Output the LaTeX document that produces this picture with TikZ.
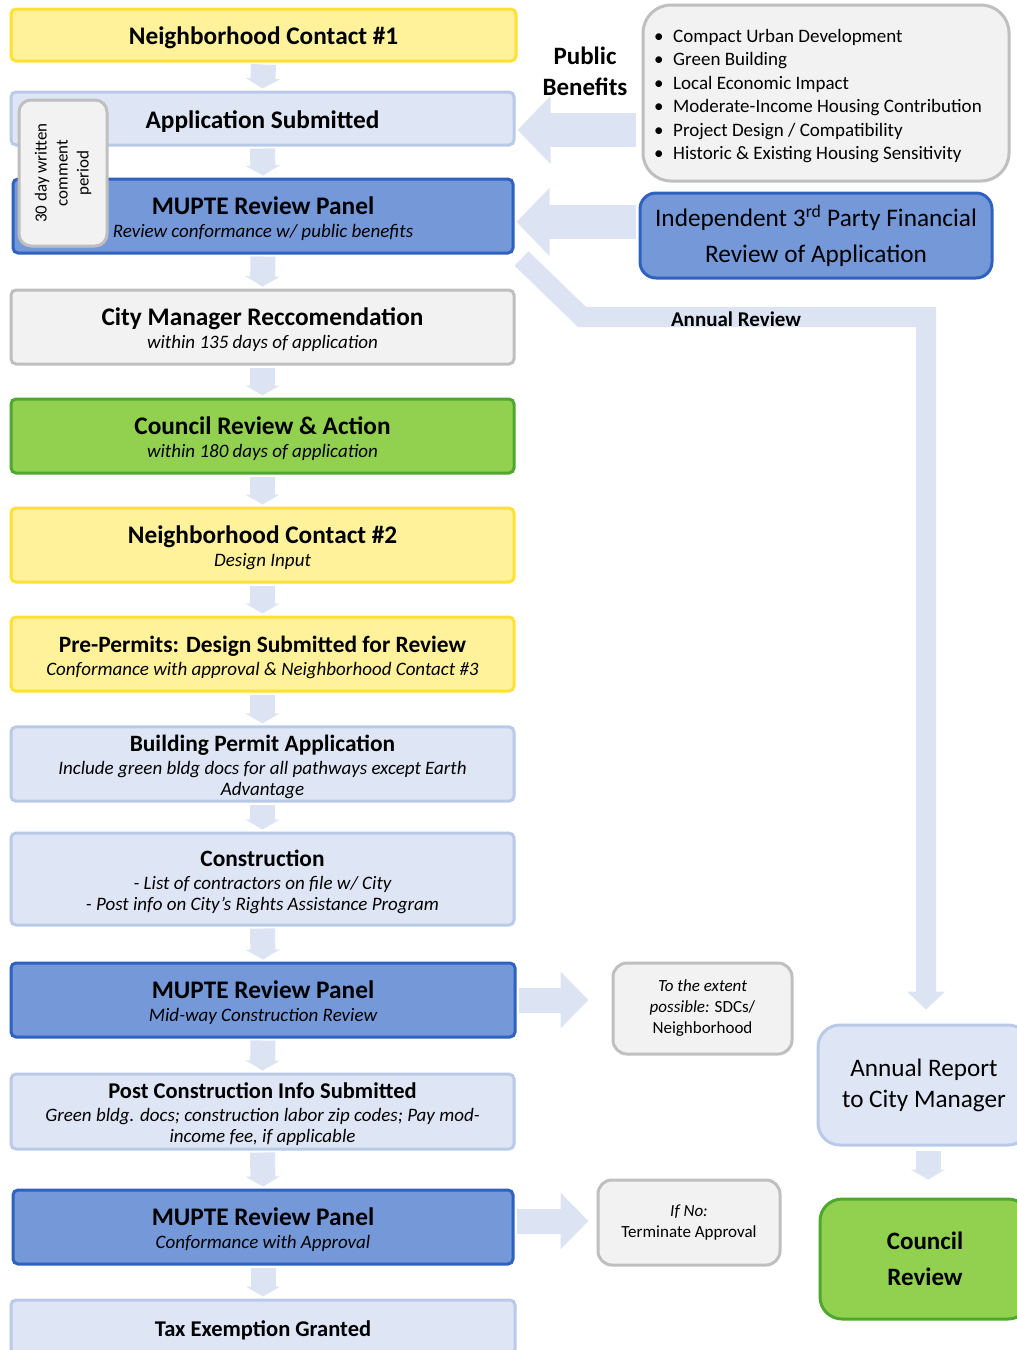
\documentclass[tikz,border=0pt]{standalone}
\usepackage{fontspec}
\setmainfont{Carlito}
\usetikzlibrary{arrows.meta,calc}
\definecolor{yelF}{HTML}{FFF29A}
\definecolor{yelD}{HTML}{FFE135}
\definecolor{lbF}{HTML}{DEE6F5}
\definecolor{lbD}{HTML}{B8CAE8}
\definecolor{dbF}{HTML}{7498D8}
\definecolor{dbD}{HTML}{2F62BE}
\definecolor{grF}{HTML}{F2F2F2}
\definecolor{grD}{HTML}{BFBFBF}
\definecolor{gnF}{HTML}{92D050}
\definecolor{gnD}{HTML}{4EA72E}
\definecolor{arC}{HTML}{DCE4F4}
\newcommand\tf{\fontsize{25.3}{25}\selectfont\bfseries\rule{0pt}{24pt}}
\newcommand\tfm{\fontsize{23.4}{25}\selectfont\bfseries\rule{0pt}{23pt}}
\newcommand\tfs{\fontsize{22.5}{25}\selectfont\bfseries\rule{0pt}{22pt}}
\newcommand\subf{\fontsize{19}{21}\selectfont\itshape}
\tikzset{
  box/.style={rectangle, rounded corners=5pt, line width=3pt, align=center, inner sep=2pt,
              font=\fontsize{19}{21}\selectfont, minimum width=503pt},
  yel/.style={box, fill=yelF, draw=yelD},
  lb/.style={box, fill=lbF, draw=lbD},
  db/.style={box, fill=dbF, draw=dbD},
  gr/.style={box, fill=grF, draw=grD},
  gn/.style={box, fill=gnF, draw=gnD},
  sidebox/.style={rectangle, line width=3pt, align=center, inner sep=2pt},
  downarr/.style={draw=arC, line width=25pt, -{Triangle[width=34pt,length=10pt]}},
  leftarr/.style={draw=arC, line width=34pt, -{Triangle[width=66pt,length=33pt]}},
  rightarr/.style={draw=arC, line width=25pt, -{Triangle[width=55pt,length=28pt]}},
  band/.style={draw=arC, line width=20pt, line join=miter, -{Triangle[width=37pt,length=18pt]}},
}
\begin{document}
\begin{tikzpicture}[x=1pt,y=-1pt]
\useasboundingbox (0,0) rectangle (1017,1350);
\clip (0,0) rectangle (1017,1350);
\fill[white] (0,0) rectangle (1017,1350);

% main column
\node[yel, minimum height=52pt, minimum width=505pt] (b1) at (263.5,35) {{\tf Neighborhood Contact \#1}};
\node[lb, minimum height=53pt] (b2) at (262.5,118.5) {{\tf Application Submitted}};
\node[db, minimum height=74pt, minimum width=500pt] (b3) at (263,216) {{\tf MUPTE Review Panel}\\[2pt]{\subf Review conformance w/ public benefits}};
\node[gr, minimum height=74pt] (b4) at (262.5,327) {{\tf City Manager Reccomendation}\\[2pt]{\subf within 135 days of application}};
\node[gn, minimum height=74pt] (b5) at (262.5,436) {{\tf Council Review \& Action}\\[2pt]{\subf within 180 days of application}};
\node[yel, minimum height=74pt] (b6) at (262.5,545) {{\tf Neighborhood Contact \#2}\\[2pt]{\subf Design Input}};
\node[yel, minimum height=74pt] (b7) at (262.5,654) {{\tfm Pre-Permits: Design Submitted for Review}\\[2pt]{\subf Conformance with approval \& Neighborhood Contact \#3}};
\node[lb, minimum height=74pt] (b8) at (262.5,764) {{\tfm Building Permit Application}\\[2pt]{\subf Include green bldg docs for all pathways except Earth}\\{\subf Advantage}};
\node[lb, minimum height=92pt] (b9) at (262.5,879) {{\tfm Construction}\\[2pt]{\subf - List of contractors on file w/ City}\\{\subf - Post info on City's Rights Assistance Program}};
\node[db, minimum height=74pt, minimum width=504pt] (b10) at (263,1000) {{\tf MUPTE Review Panel}\\[2pt]{\subf Mid-way Construction Review}};
\node[lb, minimum height=75pt] (b11) at (262.5,1111.5) {{\tfs Post Construction Info Submitted}\\[2pt]{\subf Green bldg. docs; construction labor zip codes; Pay mod-}\\{\subf income fee, if applicable}};
\node[db, minimum height=74pt, minimum width=500pt] (b12) at (263,1227) {{\tf MUPTE Review Panel}\\[2pt]{\subf Conformance with Approval}};
\node[lb, minimum height=54pt, minimum width=504pt] (b13) at (263,1327) {{\tfs Tax Exemption Granted}};

% comment period overlay
\node[sidebox, fill=grF, draw=grD, rounded corners=12pt, minimum width=88pt, minimum height=146pt] (cp) at (63,173) {};
\node[rotate=90, align=center, font=\fontsize{17}{21}\selectfont] (cpt) at (cp.center) {30 day written\\comment\\period};

% down arrows
\foreach \a/\b in {b1/b2,b2/b3,b3/b4,b4/b5,b5/b6,b6/b7,b7/b8,b8/b9,b9/b10,b10/b11,b11/b12,b12/b13}
  \draw[downarr] ($(\a.south)+(0,2)$) -- ($(\b.north)+(0,-2)$);

% right side
\node[sidebox, fill=grF, draw=grD, rounded corners=28pt, minimum width=366pt, minimum height=176pt] (pb) at (826,93) {};
\node[anchor=west, align=left, inner sep=0pt, font=\fontsize{19}{23.5}\selectfont] (pbt) at (654,96)
  {\makebox[19pt][l]{\textbullet}Compact Urban Development\\
   \makebox[19pt][l]{\textbullet}Green Building\\
   \makebox[19pt][l]{\textbullet}Local Economic Impact\\
   \makebox[19pt][l]{\textbullet}Moderate-Income Housing Contribution\\
   \makebox[19pt][l]{\textbullet}Project Design / Compatibility\\
   \makebox[19pt][l]{\textbullet}Historic \& Existing Housing Sensitivity};
\node[align=center, font=\fontsize{25}{31}\selectfont\bfseries] (pbl) at (585,71) {Public\\Benefits};

\node[sidebox, fill=dbF, draw=dbD, rounded corners=16pt, minimum width=352pt, minimum height=85pt,
      font=\fontsize{25.3}{36}\selectfont] (ind) at (816,235.5) {Independent 3\textsuperscript{rd} Party Financial\\Review of Application};

\node[sidebox, fill=lbF, draw=lbD, rounded corners=22pt, minimum width=212pt, minimum height=120pt,
      font=\fontsize{25.2}{31}\selectfont] (ar) at (924,1085) {Annual Report\\to City Manager};
\node[sidebox, fill=gnF, draw=gnD, rounded corners=22pt, minimum width=210pt, minimum height=120pt,
      font=\fontsize{25}{36}\selectfont\bfseries] (cr) at (925,1259) {Council\\Review};

\node[sidebox, fill=grF, draw=grD, rounded corners=14pt, minimum width=179pt, minimum height=91pt,
      font=\fontsize{17}{21}\selectfont] (te) at (702.5,1008.5) {\itshape To the extent\\{\itshape possible:} SDCs/\\Neighborhood};
\node[sidebox, fill=grF, draw=grD, rounded corners=14pt, minimum width=182pt, minimum height=85pt,
      font=\fontsize{17}{21}\selectfont] (tn) at (689,1222.5) {{\itshape If No:}\\Terminate Approval};

% annual review band
\coordinate (c1) at (582,317);
\coordinate (c2) at (926,317);
\draw[band] ($(b3.south east)+(7,4)$) -- (c1) -- (c2) -- ($(ar.north -| c2)+(0,-14)$);
\node[font=\fontsize{21}{22}\selectfont\bfseries, inner sep=0pt] (arl) at (736,319) {Annual Review};

% side arrows
\coordinate (y1) at (0,130);
\coordinate (y2) at (0,222);
\coordinate (y3) at (0,1221);
\coordinate (y4) at (0,1000);
\draw[leftarr] ($(pb.west |- y1)+(-6,0)$) -- ($(b2.east |- y1)+(2,0)$);
\draw[leftarr] ($(ind.west |- y2)+(-3,0)$) -- ($(b3.east |- y2)+(2,0)$);
\draw[rightarr] ($(b10.east |- y4)+(2,0)$) -- ($(te.west |- y4)+(-23,0)$);
\draw[rightarr] ($(b12.east |- y3)+(2,0)$) -- ($(tn.west |- y3)+(-8,0)$);
\draw[downarr] ($(ar.south)+(4,4)$) -- ($(cr.north)+(3,-18)$);
\end{tikzpicture}
\end{document}
